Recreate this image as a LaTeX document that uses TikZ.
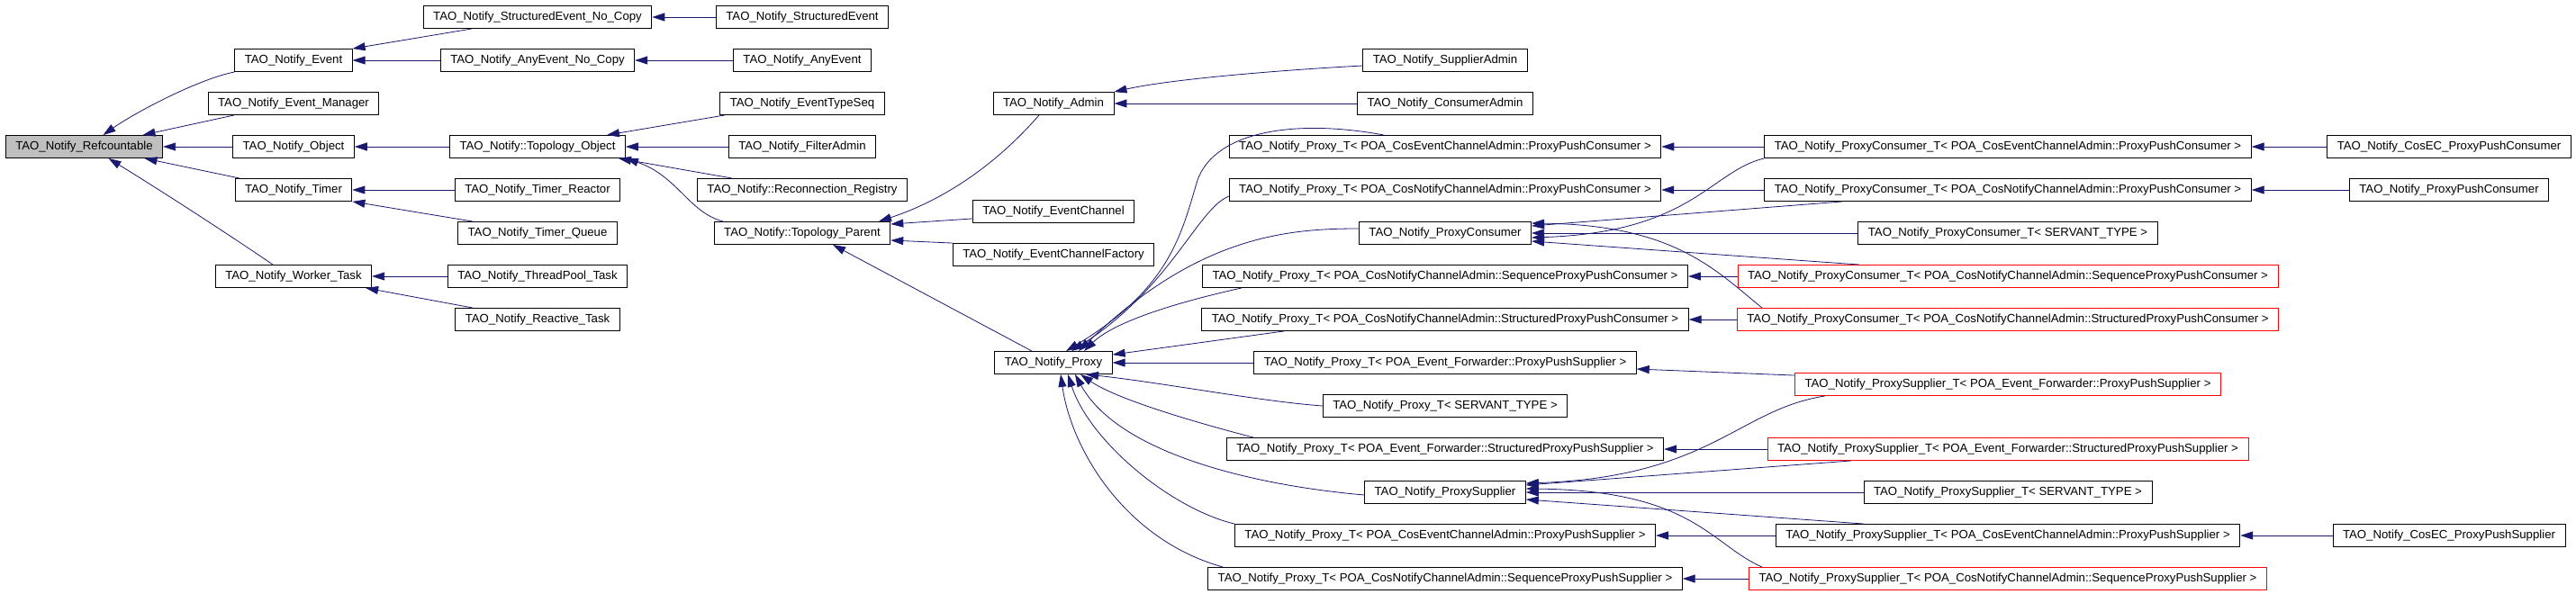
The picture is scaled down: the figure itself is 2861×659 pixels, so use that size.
\documentclass[tikz,border=0pt]{standalone}
\usepackage{fontspec}
\setmainfont{Liberation Sans}
\usetikzlibrary{arrows.meta}
\definecolor{edgeblue}{RGB}{25,25,112}
\definecolor{basegray}{RGB}{191,191,191}

\begin{document}
\begin{tikzpicture}[x=1pt, y=-1pt,
    cls/.style={draw, line width=0.9pt, font=\fontsize{13.2}{15}\selectfont,
      minimum height=25pt, inner xsep=11pt, inner ysep=0pt},
    undoc/.style={cls, draw=red},
    isa/.style={draw=edgeblue, line width=0.8pt, -{Triangle[length=14pt, width=9pt]}}]
    \useasboundingbox (0,0) rectangle (2861,659);
    %root
    \node[cls, fill=basegray] (ref) at (93.5,163) {TAO\_Notify\_Refcountable};
    %first level
    \node[cls] (ev) at (326,67) {TAO\_Notify\_Event};
    \node[cls] (evm) at (326,115) {TAO\_Notify\_Event\_Manager};
    \node[cls] (obj) at (326,163) {TAO\_Notify\_Object};
    \node[cls] (tmr) at (326,211) {TAO\_Notify\_Timer};
    \node[cls] (wrk) at (326,307) {TAO\_Notify\_Worker\_Task};
    %second level
    \node[cls] (sevnc) at (597,19) {TAO\_Notify\_StructuredEvent\_No\_Copy};
    \node[cls] (aevnc) at (597,67) {TAO\_Notify\_AnyEvent\_No\_Copy};
    \node[cls] (topo) at (597,163) {TAO\_Notify::Topology\_Object};
    \node[cls] (tmrr) at (597,211) {TAO\_Notify\_Timer\_Reactor};
    \node[cls] (tmrq) at (597,259) {TAO\_Notify\_Timer\_Queue};
    \node[cls] (tpool) at (597,307) {TAO\_Notify\_ThreadPool\_Task};
    \node[cls] (react) at (597,355) {TAO\_Notify\_Reactive\_Task};
    %third level
    \node[cls] (sev) at (891,19) {TAO\_Notify\_StructuredEvent};
    \node[cls] (aev) at (891,67) {TAO\_Notify\_AnyEvent};
    \node[cls] (ets) at (891,115) {TAO\_Notify\_EventTypeSeq};
    \node[cls] (fadm) at (891,163) {TAO\_Notify\_FilterAdmin};
    \node[cls] (reco) at (891,211) {TAO\_Notify::Reconnection\_Registry};
    \node[cls] (tpar) at (891,259) {TAO\_Notify::Topology\_Parent};
    %fourth level
    \node[cls] (adm) at (1170,115) {TAO\_Notify\_Admin};
    \node[cls] (ech) at (1170,235) {TAO\_Notify\_EventChannel};
    \node[cls] (ecf) at (1170,283) {TAO\_Notify\_EventChannelFactory};
    \node[cls] (prx) at (1170,403) {TAO\_Notify\_Proxy};
    %fifth level
    \node[cls] (sadm) at (1605,67) {TAO\_Notify\_SupplierAdmin};
    \node[cls] (cadm) at (1605,115) {TAO\_Notify\_ConsumerAdmin};
    \node[cls] (ptcec) at (1605,163) {TAO\_Notify\_Proxy\_T< POA\_CosEventChannelAdmin::ProxyPushConsumer >};
    \node[cls] (ptcnc) at (1605,211) {TAO\_Notify\_Proxy\_T< POA\_CosNotifyChannelAdmin::ProxyPushConsumer >};
    \node[cls] (pcons) at (1605,259) {TAO\_Notify\_ProxyConsumer};
    \node[cls] (ptseqc) at (1605,307) {TAO\_Notify\_Proxy\_T< POA\_CosNotifyChannelAdmin::SequenceProxyPushConsumer >};
    \node[cls] (ptstrc) at (1605,355) {TAO\_Notify\_Proxy\_T< POA\_CosNotifyChannelAdmin::StructuredProxyPushConsumer >};
    \node[cls] (ptefs) at (1605,403) {TAO\_Notify\_Proxy\_T< POA\_Event\_Forwarder::ProxyPushSupplier >};
    \node[cls] (ptsrv) at (1605,451) {TAO\_Notify\_Proxy\_T< SERVANT\_TYPE >};
    \node[cls] (ptefst) at (1605,499) {TAO\_Notify\_Proxy\_T< POA\_Event\_Forwarder::StructuredProxyPushSupplier >};
    \node[cls] (psup) at (1605,547) {TAO\_Notify\_ProxySupplier};
    \node[cls] (ptces) at (1605,595) {TAO\_Notify\_Proxy\_T< POA\_CosEventChannelAdmin::ProxyPushSupplier >};
    \node[cls] (ptseqs) at (1605,643) {TAO\_Notify\_Proxy\_T< POA\_CosNotifyChannelAdmin::SequenceProxyPushSupplier >};
    %sixth level
    \node[cls] (pcec) at (2230,163) {TAO\_Notify\_ProxyConsumer\_T< POA\_CosEventChannelAdmin::ProxyPushConsumer >};
    \node[cls] (pcnc) at (2230,211) {TAO\_Notify\_ProxyConsumer\_T< POA\_CosNotifyChannelAdmin::ProxyPushConsumer >};
    \node[cls] (pcsrv) at (2230,259) {TAO\_Notify\_ProxyConsumer\_T< SERVANT\_TYPE >};
    \node[undoc] (pcseq) at (2230,307) {TAO\_Notify\_ProxyConsumer\_T< POA\_CosNotifyChannelAdmin::SequenceProxyPushConsumer >};
    \node[undoc] (pcstr) at (2230,355) {TAO\_Notify\_ProxyConsumer\_T< POA\_CosNotifyChannelAdmin::StructuredProxyPushConsumer >};
    \node[undoc] (psefs) at (2230,427) {TAO\_Notify\_ProxySupplier\_T< POA\_Event\_Forwarder::ProxyPushSupplier >};
    \node[undoc] (psefst) at (2230,499) {TAO\_Notify\_ProxySupplier\_T< POA\_Event\_Forwarder::StructuredProxyPushSupplier >};
    \node[cls] (pssrv) at (2230,547) {TAO\_Notify\_ProxySupplier\_T< SERVANT\_TYPE >};
    \node[cls] (psces) at (2230,595) {TAO\_Notify\_ProxySupplier\_T< POA\_CosEventChannelAdmin::ProxyPushSupplier >};
    \node[undoc] (psseq) at (2230,643) {TAO\_Notify\_ProxySupplier\_T< POA\_CosNotifyChannelAdmin::SequenceProxyPushSupplier >};
    %seventh level
    \node[cls] (cosecc) at (2720,163) {TAO\_Notify\_CosEC\_ProxyPushConsumer};
    \node[cls] (ppc) at (2720,211) {TAO\_Notify\_ProxyPushConsumer};
    \node[cls] (cosecs) at (2720,595) {TAO\_Notify\_CosEC\_ProxyPushSupplier};

    %edges to the root
    \draw[isa] (ev.south west) .. controls (220,88) and (150,125) .. ([xshift=21]ref.north);
    \draw[isa] ([xshift=-66]evm.south) -- ([xshift=65]ref.north);
    \draw[isa] (obj) -- (ref);
    \draw[isa] ([xshift=-60]tmr.north) -- ([xshift=67]ref.south);
    \draw[isa] ([xshift=-23]wrk.north) .. controls (280,278) and (200,225) .. ([xshift=27]ref.south);
    %events
    \draw[isa] ([xshift=-73]sevnc.south) -- (ev.north east);
    \draw[isa] (aevnc) -- (ev);
    \draw[isa] (sev) -- (sevnc);
    \draw[isa] (aev) -- (aevnc);
    %topology
    \draw[isa] (topo) -- (obj);
    \draw[isa] ([xshift=-86]ets.south) -- ([xshift=77]topo.north);
    \draw[isa] (fadm) -- (topo);
    \draw[isa] ([xshift=-78]reco.north) -- ([xshift=90]topo.south);
    \draw[isa] ([xshift=-88]tpar.north) .. controls (765,236) and (752,195) .. (topo.south east);
    %timers and tasks
    \draw[isa] (tmrr) -- (tmr);
    \draw[isa] ([xshift=-72]tmrq.north) -- (tmr.south east);
    \draw[isa] (tpool) -- (wrk);
    \draw[isa] ([xshift=-72]react.north) -- ([xshift=-7]wrk.south east);
    %topology parent
    \draw[isa] ([xshift=-16]adm.south) .. controls (1100,190) and (1040,225) .. ([xshift=85]tpar.north);
    \draw[isa] ([yshift=5]ech.south west) -- ([yshift=10]tpar.east);
    \draw[isa] (ecf.north west) -- ([yshift=-8]tpar.east);
    \draw[isa] ([xshift=-24]prx.north) -- ([xshift=34]tpar.south);
    %admins
    \draw[isa] ([yshift=-6]sadm.west) .. controls (1420,78) and (1300,88) .. (adm.north east);
    \draw[isa] (cadm) -- (adm);
    %proxy
    \draw[isa] ([xshift=-68]ptcec.north) .. controls (1440,132) and (1350,145) .. (1330,200)
        .. controls (1312,260) and (1300,320) .. ([xshift=14]prx.north);
    \draw[isa] ([yshift=-7]ptcnc.west) .. controls (1330,232) and (1300,320) .. ([xshift=20]prx.north);
    \draw[isa] ([yshift=5]pcons.west) .. controls (1430,254) and (1330,262) .. ([xshift=28]prx.north);
    \draw[isa] ([xshift=-226]ptseqc.south) .. controls (1320,333) and (1240,355) .. ([xshift=34]prx.north);
    \draw[isa] ([xshift=-179]ptstrc.south) -- ([yshift=-4]prx.north east);
    \draw[isa] (ptefs) -- (prx);
    \draw[isa] (ptsrv.west) .. controls (1400,446) and (1290,425) .. ([xshift=36]prx.south);
    \draw[isa] ([xshift=-213]ptefst.north) .. controls (1300,462) and (1235,440) .. ([xshift=30]prx.south);
    \draw[isa] ([yshift=-3]psup.west) .. controls (1380,538) and (1240,500) .. ([xshift=24]prx.south);
    \draw[isa] (ptces.north west) .. controls (1300,565) and (1210,490) .. ([xshift=16]prx.south);
    \draw[isa] ([xshift=17]ptseqs.north west) .. controls (1250,600) and (1190,500) .. ([xshift=8]prx.south);
    %consumers
    \draw[isa] (pcec) -- (ptcec);
    \draw[isa] (pcnc) -- (ptcnc);
    \draw[isa] (pcseq) -- (ptseqc);
    \draw[isa] (pcstr) -- (ptstrc);
    \draw[isa] (pcsrv) -- (pcons);
    \draw[isa] (pcec.south west) .. controls (1900,190) and (1880,258) .. ([yshift=-5]pcons.east);
    \draw[isa] ([xshift=-184]pcnc.south) -- ([yshift=8]pcons.east);
    \draw[isa] ([xshift=-165]pcseq.north) -- ([yshift=-9]pcons.east);
    \draw[isa] ([xshift=-273]pcstr.north) .. controls (1905,300) and (1860,250) .. ([yshift=11]pcons.east);
    \draw[isa] (cosecc) -- (pcec);
    \draw[isa] (ppc) -- (pcnc);
    %suppliers
    \draw[isa] ([yshift=-3]psefs.north west) -- ([yshift=-7]ptefs.east);
    \draw[isa] (psefst) -- (ptefst);
    \draw[isa] (psces) -- (ptces);
    \draw[isa] (psseq) -- (ptseqs);
    \draw[isa] (pssrv) -- (psup);
    \draw[isa] ([xshift=-203]psefs.south) .. controls (1930,455) and (1900,530) .. ([yshift=10]psup.east);
    \draw[isa] ([xshift=-174]psefst.south) -- ([yshift=8]psup.east);
    \draw[isa] ([xshift=-160]psces.north) -- ([yshift=-8]psup.east);
    \draw[isa] ([xshift=-273]psseq.north) .. controls (1900,605) and (1880,545) .. ([yshift=4]psup.east);
    \draw[isa] (cosecs) -- (psces);
\end{tikzpicture}
\end{document}
